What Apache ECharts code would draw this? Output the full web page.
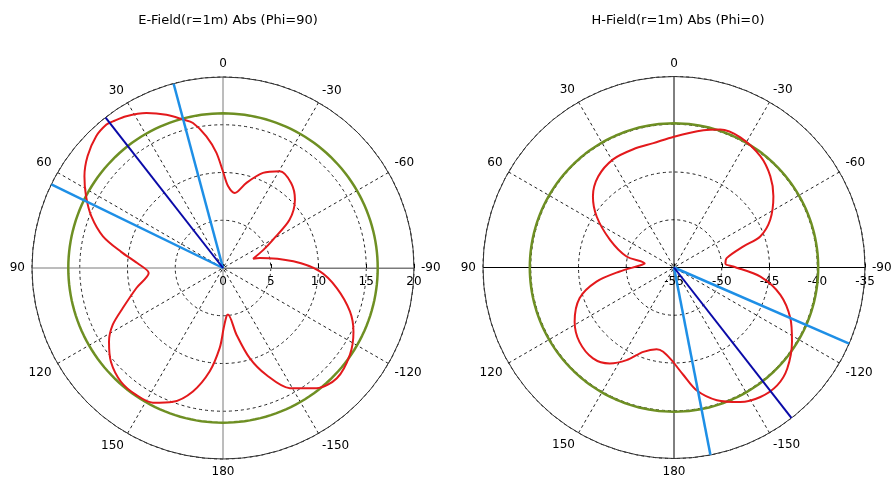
<!DOCTYPE html>
<html><head><meta charset="utf-8">
<script src="https://cdn.jsdelivr.net/npm/echarts@6/dist/echarts.min.js"></script>
<style>html,body{margin:0;padding:0;background:#fff}#c{width:892px;height:485px}</style>
</head><body><div id="c"></div>
<script>
// ---- data (chart angle convention: 0 at top, positive counter-clockwise, -180..180) ----
const eTitle = 'E-Field(r=1m) Abs (Phi=90)';
const hTitle = 'H-Field(r=1m) Abs (Phi=0)';

const eAngles = [-180,-176,-173.9,-168.6,-163.5,-157.9,-150.9,-142.1,-134.1,-124.4,-116,-108.9,-100,-92,-84.6,-74.8,-72.8,-66,-60.5,-54.1,-46.4,-38.8,-30.4,-22.8,-15.4,-8.9,-3.5,0,3.3,7.2,11.7,15.1,20.3,26.3,32.5,36.9,39.1,43.9,50.4,56.5,62.3,68.6,75.2,81,86.7,93.9,103,111.8,117.3,122.8,129.9,138.1,145.6,152.5,159.5,166.3,172.7,177.6,180];
const eValues = [6.65,5.1,4.9,7.1,9.85,12.1,14.4,15.95,16.6,16.1,15.2,14.05,12.1,10.15,7.4,4.0,3.3,4.6,6.0,8.6,10.4,11.4,11.75,10.8,9.25,7.95,8.6,10.1,12.1,13.9,15.5,16.1,17.1,18.1,18.85,19.2,19.35,19.15,18.4,17.4,16.2,14.8,13.0,10.8,9.0,7.8,9.3,11.3,13.0,14.2,15.3,16.0,16.1,15.9,14.95,13.3,10.9,8.4,6.65];

const hAngles = [-180,-175,-169.5,-162.1,-153.8,-146.3,-138.8,-131.8,-122.2,-113.6,-104.4,-96,-89,-85.8,-79.9,-73.1,-70.2,-63.6,-54.4,-46.5,-37.8,-27,-18.5,-12.1,0,9.4,19,29.4,39.8,48.7,56.6,66.6,76.9,82,86.6,94.2,100.3,108,118.6,128.2,138.3,146.2,152.9,160,168,172.7,179.6,180];
const hValues = [-45.0,-43.7,-41.9,-40.4,-39.3,-38.7,-38.6,-39.1,-40.4,-41.7,-43.5,-45.9,-48.8,-49.6,-49.4,-47.4,-45.4,-43.75,-42.2,-41.1,-40.25,-39.7,-39.75,-40.3,-41.3,-41.8,-41.9,-42.0,-42.6,-43.7,-45.3,-47.7,-49.9,-51.9,-51.4,-49.3,-46.75,-44.6,-43.15,-42.4,-42.25,-42.9,-44.1,-45.6,-46.25,-46.1,-45.1,-45.0];

const eRadiusRange = [0, 20];
const hRadiusRange = [-55, -35];
const radiusStep = 5;
const angleStep = 30;

const eRefLevel = 16.2;
const hRefLevel = -39.9;
const eMainDir = 38;
const eBeamEdges = [15, 64];
const hMainDir = -142;
const hBeamEdges = [-169, -113.5];

// ---- helpers ----
const FONT = 'DejaVu Sans';
function toAxisAngle(t) { return t < -90 ? t + 360 : t; }
function pairs(angles, values) { return angles.map((t, i) => [values[i], toAxisAngle(t)]); }
function circle(level) { const d = []; for (let a = -90; a <= 270; a += 2) d.push([level, a]); return d; }
function ray(range, t) { return [[range[0], toAxisAngle(t)], [range[1], toAxisAngle(t)]]; }

const layouts = [
  { center: [223, 268], cross: '#7a7a7a', range: eRadiusRange },
  { center: [674, 267.5], cross: '#000000', range: hRadiusRange }
];

const polar = [], angleAxis = [], radiusAxis = [];
layouts.forEach((L, k) => {
  // main polar (dashed grid + labels)
  polar.push({ center: L.center, radius: 191 });
  angleAxis.push({
    polarIndex: 2 * k, type: 'value', min: -90, max: 270, interval: angleStep,
    startAngle: 0, clockwise: false,
    axisLine: { show: false }, axisTick: { show: false },
    axisLabel: { show: true, margin: 7, color: '#000', fontSize: 12, fontFamily: FONT,
      formatter: v => String(v > 180 ? v - 360 : v) },
    // every third radial (the 0/90/180/-90 ones) is left to the solid cross
    splitLine: { show: true, lineStyle: { color: ['rgba(0,0,0,0)', '#222', '#222'], width: 1, type: [3, 3] } }
  });
  radiusAxis.push({
    polarIndex: 2 * k, type: 'value', min: L.range[0], max: L.range[1], interval: radiusStep,
    axisLine: { show: true, lineStyle: { color: L.cross, width: 1 } },
    axisTick: { show: true, length: 4, inside: true, lineStyle: { color: '#000' } },
    axisLabel: { show: true, margin: -8, verticalAlign: 'top', align: 'center', color: '#000', fontSize: 12, fontFamily: FONT },
    splitLine: { show: true, lineStyle: { color: '#222', width: 1, type: [3, 3] } }
  });
  // overlay polar (solid cross + outer circle)
  polar.push({ center: L.center, radius: 191 });
  angleAxis.push({
    polarIndex: 2 * k + 1, type: 'value', min: -90, max: 270, interval: 90,
    startAngle: 0, clockwise: false,
    axisLine: { show: true, lineStyle: { color: '#333', width: 1 } },
    axisTick: { show: false }, axisLabel: { show: false },
    splitLine: { show: true, lineStyle: { color: L.cross, width: 1, type: 'solid' } }
  });
  radiusAxis.push({
    polarIndex: 2 * k + 1, type: 'value', min: L.range[0], max: L.range[1], interval: radiusStep,
    show: false
  });
});

function lineSeries(polarIndex, data, color, width, z, smooth) {
  return { type: 'line', coordinateSystem: 'polar', polarIndex, data, showSymbol: false, symbol: 'none',
    smooth: smooth || false, lineStyle: { color, width }, z, silent: true, animation: false };
}

const series = [
  lineSeries(0, circle(eRefLevel), '#6e8f23', 2.5, 3),
  lineSeries(0, pairs(eAngles, eValues), '#e3191c', 2, 4, 0.3),
  lineSeries(0, ray(eRadiusRange, eBeamEdges[0]), '#1e8fe6', 2.5, 5),
  lineSeries(0, ray(eRadiusRange, eBeamEdges[1]), '#1e8fe6', 2.5, 5),
  lineSeries(0, ray(eRadiusRange, eMainDir), '#0a0aa8', 2, 5),
  lineSeries(2, circle(hRefLevel), '#6e8f23', 2.5, 3),
  lineSeries(2, pairs(hAngles, hValues), '#e3191c', 2, 4, 0.3),
  lineSeries(2, ray(hRadiusRange, hBeamEdges[0]), '#1e8fe6', 2.5, 5),
  lineSeries(2, ray(hRadiusRange, hBeamEdges[1]), '#1e8fe6', 2.5, 5),
  lineSeries(2, ray(hRadiusRange, hMainDir), '#0a0aa8', 2, 5)
];

const chart = echarts.init(document.getElementById('c'), null, { renderer: 'canvas' });
chart.setOption({
  animation: false,
  backgroundColor: '#fff',
  title: [
    { text: eTitle, left: 223, top: 9, textAlign: 'center', textStyle: { fontSize: 13, fontWeight: 'normal', color: '#000', fontFamily: FONT } },
    { text: hTitle, left: 673, top: 9, textAlign: 'center', textStyle: { fontSize: 13, fontWeight: 'normal', color: '#000', fontFamily: FONT } }
  ],
  polar, angleAxis, radiusAxis, series
});
</script>
</body></html>
